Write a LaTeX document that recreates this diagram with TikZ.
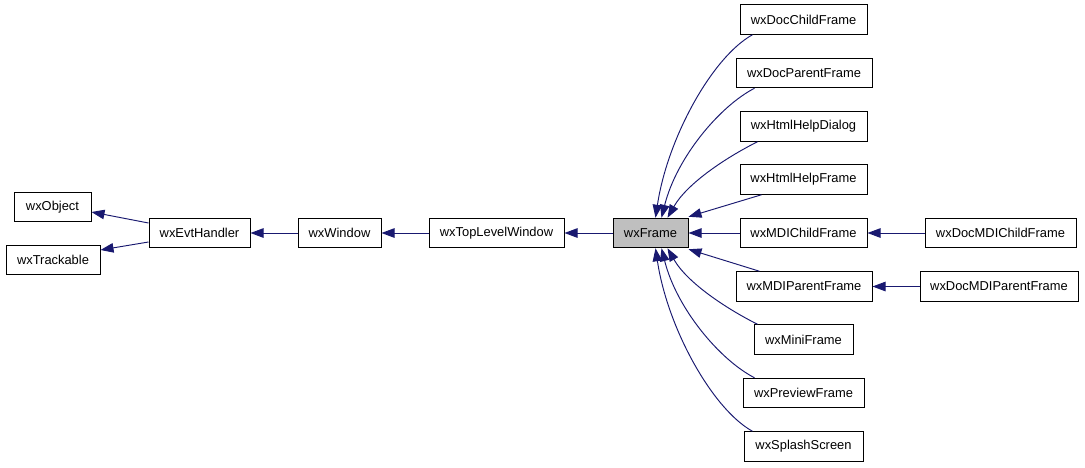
\documentclass[tikz,border=0pt]{standalone}
\usepackage{fontspec}
\setmainfont{Liberation Sans}
\usetikzlibrary{arrows.meta,calc}
\definecolor{edgeblue}{HTML}{191970}
\definecolor{framegray}{HTML}{BFBFBF}
\begin{document}
\begin{tikzpicture}[x=1pt,y=-1pt,
  cls/.style={draw=black,line width=1pt,fill=white,inner sep=0pt,minimum height=29.5pt,
    font=\fontsize{12.9}{15}\selectfont},
  edge/.style={draw=edgeblue,line width=0.95pt,-{Triangle[length=13pt,width=9.5pt]}}]
\useasboundingbox[fill=white] (0,0) rectangle (1085,467);
% nodes
\node[cls,minimum width=77pt]  (obj) at (52.5,207) {wxObject};
\node[cls,minimum width=94pt]  (trk) at (53,260) {wxTrackable};
\node[cls,minimum width=101pt] (evt) at (199.5,233) {wxEvtHandler};
\node[cls,minimum width=83pt]  (win) at (339.5,233) {wxWindow};
\node[cls,minimum width=135pt] (tlw) at (496.5,233) {wxTopLevelWindow};
\node[cls,minimum width=75pt,fill=framegray] (frm) at (650.5,233) {wxFrame};
\node[cls,minimum width=127pt] (dcf) at (803.5,19.5) {wxDocChildFrame};
\node[cls,minimum width=136pt] (dpf) at (804,73) {wxDocParentFrame};
\node[cls,minimum width=127pt] (hhd) at (803.5,126.5) {wxHtmlHelpDialog};
\node[cls,minimum width=127pt] (hhf) at (803.5,179.5) {wxHtmlHelpFrame};
\node[cls,minimum width=127pt] (mcf) at (803.5,233) {wxMDIChildFrame};
\node[cls,minimum width=136pt] (mpf) at (804,286.5) {wxMDIParentFrame};
\node[cls,minimum width=99pt]  (mini) at (803.5,339.5) {wxMiniFrame};
\node[cls,minimum width=121pt] (pvf) at (803.5,393) {wxPreviewFrame};
\node[cls,minimum width=119pt] (ss) at (803.5,446.5) {wxSplashScreen};
\node[cls,minimum width=151pt] (dmc) at (1000.5,233) {wxDocMDIChildFrame};
\node[cls,minimum width=158pt] (dmp) at (999,286.5) {wxDocMDIParentFrame};
% edges
\draw[edge] ($(evt.west)+(0,-10)$) -- ($(obj.east)+(0,5)$);
\draw[edge] ($(evt.west)+(0,9)$) -- ($(trk.east)+(0,-10)$);
\draw[edge] (win.west) -- (evt.east);
\draw[edge] (tlw.west) -- (win.east);
\draw[edge] (frm.west) -- (tlw.east);
\draw[edge] (dmc.west) -- (mcf.east);
\draw[edge] (dmp.west) -- (mpf.east);
\draw[edge] ($(dcf.south west)+(13,0)$) .. controls +(-40,22) and +(12,-80) .. ($(frm.north west)+(43,0)$);
\draw[edge] ($(dpf.south west)+(19,0)$) .. controls +(-35,18) and +(15,-60) .. ($(frm.north west)+(49,0)$);
\draw[edge] ($(hhd.south west)+(18,0)$) .. controls +(-30,15) and +(20,-35) .. ($(frm.north west)+(55,0)$);
\draw[edge] ($(hhf.south west)+(22,0)$) -- ($(frm.north east)+(0,-1)$);
\draw[edge] (mcf.west) -- (frm.east);
\draw[edge] ($(mpf.north west)+(24,0)$) -- ($(frm.south east)+(0,1)$);
\draw[edge] ($(mini.north west)+(4,0)$) .. controls +(-30,-15) and +(20,35) .. ($(frm.south west)+(55,0)$);
\draw[edge] ($(pvf.north west)+(12,0)$) .. controls +(-35,-18) and +(15,60) .. ($(frm.south west)+(49,0)$);
\draw[edge] ($(ss.north west)+(9,0)$) .. controls +(-40,-22) and +(12,80) .. ($(frm.south west)+(43,0)$);
\end{tikzpicture}
\end{document}
